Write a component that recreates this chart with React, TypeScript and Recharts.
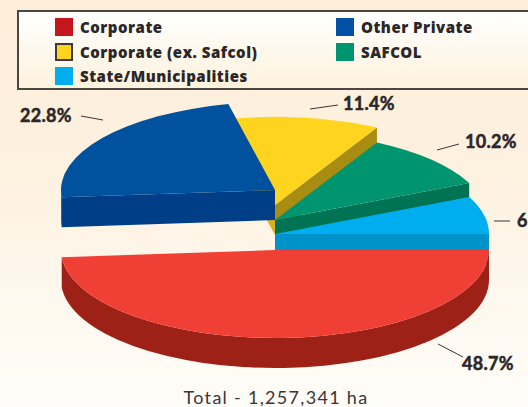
import * as React from "react";
import { PieChart, Pie } from "recharts";

// clockwise from the yellow slice, so the painter's order comes out right
const sliceNames = ["Corporate (ex. Safcol)", "SAFCOL", "State/Municipalities", "Corporate", "Other Private"];
const sliceShares = [11.4, 10.2, 6.9, 48.7, 22.8];
const topColors = ["#ffd41e", "#00956f", "#00aeef", "#f04036", "#00529f"];
const wallColors = ["#a98c12", "#007355", "#0093c9", "#9e2118", "#003f87"];
const startWallColors = ["#d9b020", "#007355", "#0093c9", "#9e2118", "#003f87"];
const lifts = [45, 30, 16, 0, 60]; // how far each slice is pulled up from the red one

const legendLeft = [
  { name: "Corporate", color: "#c4161c" },
  { name: "Corporate (ex. Safcol)", color: "#ffd41e", outlined: true },
  { name: "State/Municipalities", color: "#00aeef" },
];
const legendRight = [
  { name: "Other Private", color: "#0050a4" },
  { name: "SAFCOL", color: "#00956f" },
];

const totalLabel = "Total - 1,257,341 ha";

const RY_RATIO = 88 / 214;
const DEPTH = 30;
const FONT = "Lato, 'Open Sans', sans-serif";
const LEGEND_FONT = "'Open Sans', Lato, sans-serif";

const callouts: Record<string, { x1: number; y1: number; x2: number; y2: number; tx: number; ty: number }> = {
  "Other Private": { x1: 81, y1: 116, x2: 103, y2: 120, tx: 20, ty: 122 },
  "Corporate (ex. Safcol)": { x1: 310, y1: 109, x2: 338, y2: 105, tx: 343, ty: 110 },
  SAFCOL: { x1: 437, y1: 150, x2: 459, y2: 144, tx: 465, ty: 148 },
  "State/Municipalities": { x1: 494, y1: 221, x2: 510, y2: 221, tx: 517, ty: 227 },
  Corporate: { x1: 438, y1: 344, x2: 463, y2: 357, tx: 462, ty: 370 },
};

const chartData = sliceNames.map((name, i) => ({
  name,
  value: sliceShares[i],
  fill: topColors[i],
  wall: wallColors[i],
  startWall: startWallColors[i],
  lift: lifts[i],
}));

function rad(deg: number) {
  return (deg * Math.PI) / 180;
}

function SliceShape(props: any) {
  const { cx, startAngle, endAngle, outerRadius, payload } = props;
  const entry = payload?.payload ?? payload;
  const cy = props.cy - entry.lift;
  const rx = outerRadius;
  const ry = outerRadius * RY_RATIO;

  // recharts angles run anticlockwise, screen angles here run clockwise from east
  let a0 = ((-startAngle % 360) + 360) % 360;
  if (a0 > 359.99) a0 -= 360;
  const a1 = a0 + (startAngle - endAngle);
  const pt = (a: number, dy = 0) => [cx + rx * Math.cos(rad(a)), cy + ry * Math.sin(rad(a)) + dy];

  const [sx, sy] = pt(a0);
  const [ex, ey] = pt(a1);
  const large = a1 - a0 > 180 ? 1 : 0;
  const top = `M${cx},${cy} L${sx},${sy} A${rx},${ry} 0 ${large} 1 ${ex},${ey} Z`;

  const radialWall = (a: number) => {
    const [x, y] = pt(a);
    return `M${cx},${cy} L${x},${y} L${x},${y + DEPTH} L${cx},${cy + DEPTH} Z`;
  };

  const showStart = Math.sin(rad(a0 - 90)) > 0;
  const showEnd = Math.sin(rad(a1 + 90)) > 0;

  // only the front half of the rim is visible
  const b0 = Math.max(a0, 0);
  const b1 = Math.min(a1, 180);
  let rim: string | null = null;
  if (b1 > b0) {
    const [p0x, p0y] = pt(b0);
    const [p1x, p1y] = pt(b1);
    rim = `M${p0x},${p0y} A${rx},${ry} 0 0 1 ${p1x},${p1y} L${p1x},${p1y + DEPTH} A${rx},${ry} 0 0 0 ${p0x},${p0y + DEPTH} Z`;
  }

  return (
    <g>
      {showStart && <path d={radialWall(a0)} fill={entry.startWall} />}
      {showEnd && <path d={radialWall(a1)} fill={entry.wall} />}
      {rim && <path d={rim} fill={entry.wall} />}
      <path d={top} fill={entry.fill} />
    </g>
  );
}

function Callout(props: any) {
  const c = callouts[props.name];
  if (!c) return null;
  return (
    <g>
      <line x1={c.x1} y1={c.y1} x2={c.x2} y2={c.y2} stroke="#3a3536" strokeWidth={1} />
      <text
        x={c.tx}
        y={c.ty}
        fill="#2b2627"
        stroke="#2b2627"
        strokeWidth={0.5}
        fontFamily={FONT}
        fontWeight={700}
        fontSize={18}
        letterSpacing={0.3}
        textAnchor="start"
      >
        {props.value}%
      </text>
    </g>
  );
}

function LegendRow({ name, color, outlined }: { name: string; color: string; outlined?: boolean }) {
  return (
    <div style={{ display: "flex", alignItems: "center", height: 24.5 }}>
      <span
        style={{
          width: 18,
          height: 18,
          background: color,
          boxSizing: "border-box",
          border: outlined ? "2px solid #3f3a39" : "none",
          marginRight: 7,
        }}
      />
      <span
        style={{
          fontFamily: LEGEND_FONT,
          fontWeight: 800,
          fontSize: 15,
          letterSpacing: 0.5,
          color: "#2b2627",
          whiteSpace: "nowrap",
        }}
      >
        {name}
      </span>
    </div>
  );
}

export default function App() {
  return (
    <div
      style={{
        position: "absolute",
        left: 0,
        top: 0,
        width: 528,
        height: 407,
        overflow: "hidden",
        background: "linear-gradient(#fdeeda 0%, #fdf1df 40%, #fffdf9 100%)",
      }}
    >
      <div
        style={{
          position: "absolute",
          left: 17,
          top: 10,
          width: 530,
          height: 80,
          boxSizing: "border-box",
          border: "2px solid #4a4644",
          background: "linear-gradient(#ffffff, #fdf2dc)",
        }}
      />
      <div style={{ position: "absolute", left: 55, top: 15 }}>
        {legendLeft.map((row) => (
          <LegendRow key={row.name} {...row} />
        ))}
      </div>
      <div style={{ position: "absolute", left: 336, top: 15 }}>
        {legendRight.map((row) => (
          <LegendRow key={row.name} {...row} />
        ))}
      </div>

      <div style={{ position: "absolute", left: 0, top: 0 }}>
        <PieChart width={528} height={407} margin={{ top: 0, right: 0, bottom: 0, left: 0 }}>
          <Pie
            data={chartData}
            dataKey="value"
            nameKey="name"
            cx={275}
            cy={250}
            innerRadius={0}
            outerRadius={214}
            startAngle={102.6}
            endAngle={-257.4}
            stroke="none"
            labelLine={false}
            label={Callout}
            shape={SliceShape}
            isAnimationActive={false}
          />
        </PieChart>
      </div>

      <div
        style={{
          position: "absolute",
          left: 0,
          width: 552,
          top: 388,
          height: 19,
          lineHeight: "19px",
          textAlign: "center",
          fontFamily: FONT,
          fontSize: 18,
          letterSpacing: 1.3,
          color: "#3a3536",
        }}
      >
        {totalLabel}
      </div>
    </div>
  );
}
